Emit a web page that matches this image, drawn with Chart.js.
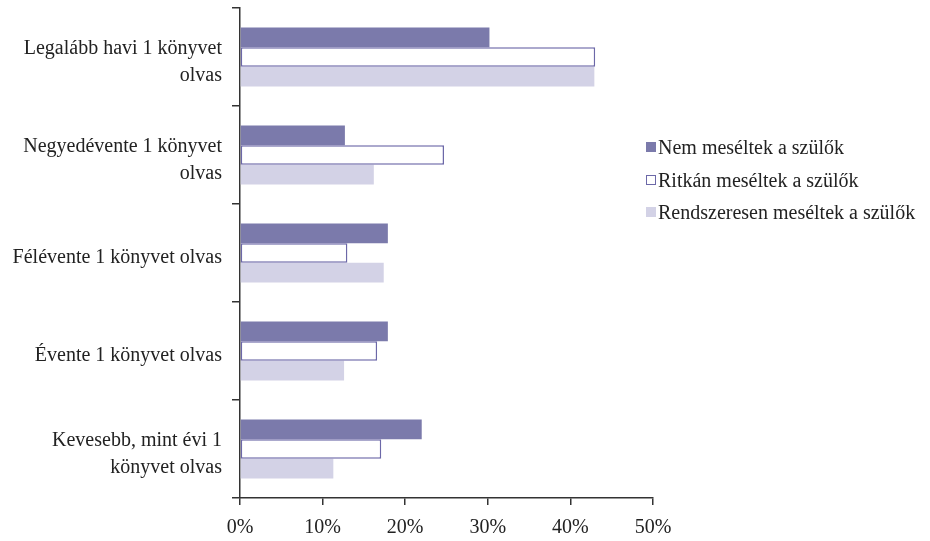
<!DOCTYPE html>
<html>
<head>
<meta charset="utf-8">
<script src="https://cdn.jsdelivr.net/npm/chart.js@4"></script>
<style>
  html, body { margin: 0; padding: 0; background: #fff; }
  #wrap { position: relative; width: 930px; height: 541px; }
  #legend { position: absolute; left: 646px; top: 133px; font-family: "Liberation Serif", serif; font-size: 20px; color: #222; }
  #legend div { height: 32.5px; line-height: 28px; white-space: nowrap; }
  #legend span.box { display: inline-block; width: 10px; height: 10px; margin-right: 2px; box-sizing: border-box; vertical-align: 2px; }
</style>
</head>
<body>
<div id="wrap">
  <canvas id="chart" width="930" height="541"></canvas>
  <div id="legend"></div>
</div>
<script>
// Olvasási gyakoriság a szülői meseolvasás szerint
const categories = [
    ['Legalább havi 1 könyvet', 'olvas'],
    ['Negyedévente 1 könyvet', 'olvas'],
    'Félévente 1 könyvet olvas',
    'Évente 1 könyvet olvas',
    ['Kevesebb, mint évi 1', 'könyvet olvas']
];
const seriesNames = ['Nem meséltek a szülők', 'Ritkán meséltek a szülők', 'Rendszeresen meséltek a szülők'];
const nemMeseltek = [30.2, 12.7, 17.9, 17.9, 22.0];
const ritkanMeseltek = [43.0, 24.7, 13.0, 16.6, 17.1];
const rendszeresenMeseltek = [42.9, 16.2, 17.4, 12.6, 11.3];
const xTicks = [0, 10, 20, 30, 40, 50];

const fills = ['#7b7aab', '#ffffff', '#d3d2e6'];
const borders = ['#7b7aab', '#6c68a8', '#d3d2e6'];
const borderWidths = [0, 1.5, 0];

const serif = '"Liberation Serif", "Times New Roman", serif';

function initChart() {
    const ctx = document.getElementById('chart');
    const values = [nemMeseltek, ritkanMeseltek, rendszeresenMeseltek];

    new Chart(ctx.getContext('2d'), {
        type: 'bar',
        data: {
            labels: categories,
            datasets: seriesNames.map((name, i) => ({
                label: name,
                data: values[i],
                backgroundColor: fills[i],
                borderColor: borders[i],
                borderWidth: borderWidths[i],
                borderSkipped: false,
                categoryPercentage: 0.6,
                barPercentage: 1.0
            }))
        },
        options: {
            indexAxis: 'y',
            responsive: false,
            animation: false,
            layout: { padding: { top: 8, right: 277, left: 0, bottom: 0 } },
            plugins: {
                legend: { display: false },
                tooltip: { enabled: false }
            },
            scales: {
                x: {
                    min: 0,
                    max: 50,
                    afterBuildTicks: (scale) => { scale.ticks = xTicks.map(v => ({ value: v })); },
                    grid: { drawOnChartArea: false, drawTicks: true, tickLength: 7, color: '#333', lineWidth: 1.5 },
                    border: { color: '#333', width: 1.5 },
                    ticks: {
                        callback: (v) => v + '%',
                        font: { family: serif, size: 20 },
                        color: '#222',
                        padding: 11,
                        maxRotation: 0
                    },
                    afterFit: (scale) => { scale.height = 43; scale.paddingLeft = 0; }
                },
                y: {
                    grid: { drawOnChartArea: false, drawTicks: true, tickLength: 8, color: '#333', lineWidth: 1.5, offset: true },
                    border: { color: '#333', width: 1.5 },
                    ticks: {
                        font: { family: serif, size: 20, lineHeight: 1.35 },
                        color: '#222',
                        padding: 10,
                        labelOffset: 5
                    },
                    afterFit: (scale) => {
                        scale.width = 240;
                        scale.paddingTop = 0;
                        scale.paddingBottom = 0;
                    }
                }
            }
        }
    });

    const legend = document.getElementById('legend');
    seriesNames.forEach((name, i) => {
        const row = document.createElement('div');
        const box = document.createElement('span');
        box.className = 'box';
        box.style.background = fills[i];
        box.style.border = i === 1 ? '1.5px solid ' + borders[i] : 'none';
        row.appendChild(box);
        row.appendChild(document.createTextNode(name));
        legend.appendChild(row);
    });
}

document.addEventListener('DOMContentLoaded', initChart);
</script>
</body>
</html>
